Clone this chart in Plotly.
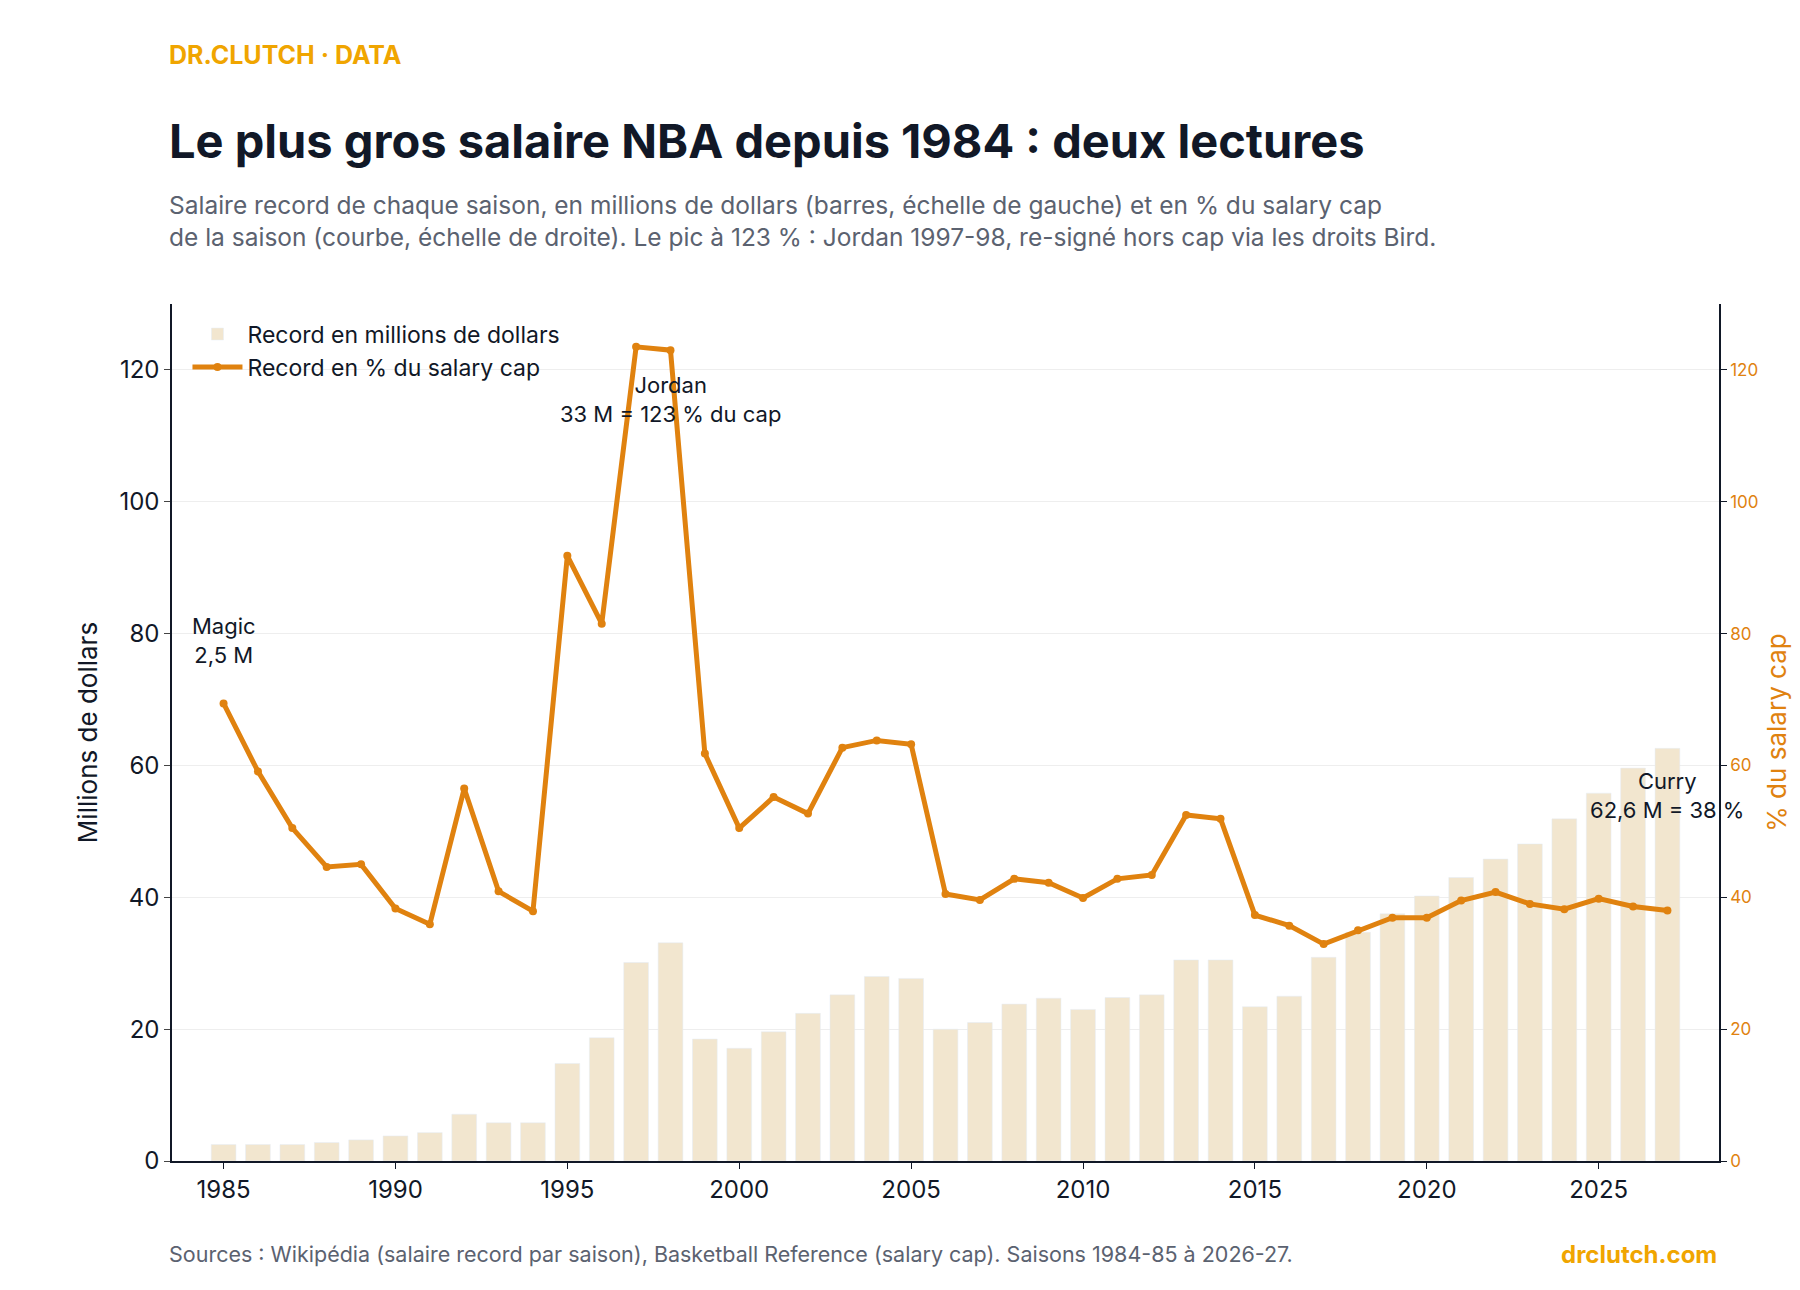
import plotly.graph_objects as go

years = list(range(1985, 2028))
record_musd = [2.5, 2.5, 2.5, 2.8, 3.2, 3.8, 4.3, 7.1, 5.8, 5.8, 14.8, 18.7, 30.1, 33.1, 18.5, 17.1,
               19.6, 22.4, 25.2, 28.0, 27.7, 20.0, 21.0, 23.8, 24.7, 23.0, 24.8, 25.2, 30.5, 30.5,
               23.4, 25.0, 30.9, 34.7, 37.5, 40.2, 43.0, 45.8, 48.1, 51.9, 55.8, 59.6, 62.6]
record_pct = [69.4, 59.1, 50.5, 44.6, 45.0, 38.3, 35.9, 56.5, 40.9, 37.9, 91.8, 81.5, 123.5, 123.0,
              61.8, 50.5, 55.2, 52.7, 62.7, 63.8, 63.2, 40.5, 39.6, 42.8, 42.2, 39.9, 42.8, 43.4,
              52.5, 51.9, 37.3, 35.7, 32.9, 35.0, 36.9, 36.9, 39.5, 40.8, 39.0, 38.2, 39.8, 38.6, 38.0]

ORANGE = "#E0820F"
GOLD = "#F0A500"
DARK = "#111827"
GREY = "#5b6270"
FONT = "Inter"

W, H = 1800, 1290
L, R, T, B = 164, 89, 296, 137
PH = H - T - B

def py(px):
    return (H - B - px) / PH

fig = go.Figure()
fig.add_trace(go.Bar(x=years, y=record_musd, name="Record en millions de dollars",
                     marker_color="#F2E6CF", width=0.72, yaxis="y"))
fig.add_trace(go.Scatter(x=years, y=record_pct, name="Record en % du salary cap", yaxis="y2",
                         mode="lines+markers", line=dict(color=ORANGE, width=5),
                         marker=dict(size=8, color=ORANGE)))

annots = [
    dict(x=1985, y=79, text="Magic<br>2,5 M"),
    dict(x=1998, y=115.5, text="Jordan<br>33 M = 123 % du cap"),
    dict(x=2027, y=55.4, text="Curry<br>62,6 M = 38 %"),
]
for a in annots:
    fig.add_annotation(x=a["x"], y=a["y"], yref="y2", xref="x", text=a["text"], showarrow=False,
                       font=dict(family=FONT, size=22, color=DARK), align="center")

X0 = -0.003
fig.add_annotation(xref="paper", yref="paper", x=X0, y=py(47), xanchor="left", yanchor="middle",
                   text="<b>DR.CLUTCH · DATA</b>", showarrow=False, font=dict(family=FONT, size=25, color=GOLD))
fig.add_annotation(xref="paper", yref="paper", x=X0, y=py(132), xanchor="left", yanchor="middle",
                   text="<b>Le plus gros salaire NBA depuis 1984 : deux lectures</b>", showarrow=False,
                   font=dict(family=FONT, size=47, color=DARK))
fig.add_annotation(xref="paper", yref="paper", x=X0, y=py(213), xanchor="left", yanchor="middle",
                   text="Salaire record de chaque saison, en millions de dollars (barres, échelle de gauche) et en % du salary cap<br>de la saison (courbe, échelle de droite). Le pic à 123 % : Jordan 1997-98, re-signé hors cap via les droits Bird.",
                   showarrow=False, align="left", font=dict(family=FONT, size=24.5, color=GREY))
fig.add_annotation(xref="paper", yref="paper", x=X0, y=py(1246), xanchor="left", yanchor="middle",
                   text="Sources : Wikipédia (salaire record par saison), Basketball Reference (salary cap). Saisons 1984-85 à 2026-27.",
                   showarrow=False, font=dict(family=FONT, size=21.5, color=GREY))
fig.add_annotation(xref="paper", yref="paper", x=1.0, y=py(1246), xanchor="right", yanchor="middle",
                   text="<b>drclutch.com</b>", showarrow=False, font=dict(family=FONT, size=24, color=GOLD))

fig.update_layout(
    width=W, height=H, plot_bgcolor="white", paper_bgcolor="white",
    margin=dict(l=L, r=R, t=T, b=B),
    font=dict(family=FONT, color=DARK),
    xaxis=dict(range=[1983.5, 2028.5], tickvals=[1985, 1990, 1995, 2000, 2005, 2010, 2015, 2020, 2025],
               showline=True, linecolor=DARK, linewidth=1.5, ticks="outside", ticklen=6, tickcolor=DARK,
               tickfont=dict(size=24, color=DARK), showgrid=False, zeroline=False),
    yaxis=dict(range=[0, 130], tickvals=[0, 20, 40, 60, 80, 100, 120], showline=True, linecolor=DARK,
               linewidth=1.5, ticks="outside", ticklen=6, tickfont=dict(size=24, color=DARK),
               gridcolor="#EEEEEE", zeroline=False,
               title=dict(text="Millions de dollars", font=dict(size=26, color=DARK), standoff=14)),
    yaxis2=dict(range=[0, 130], tickvals=[0, 20, 40, 60, 80, 100, 120], overlaying="y", side="right",
                showline=True, linecolor=DARK, linewidth=1.5, ticks="outside", ticklen=6, tickcolor=DARK,
                tickfont=dict(size=17, color=ORANGE), showgrid=False, zeroline=False,
                title=dict(text="% du salary cap", font=dict(size=26, color=ORANGE), standoff=10)),
    legend=dict(x=0.01, y=0.99, xanchor="left", yanchor="top", bgcolor="rgba(0,0,0,0)",
                font=dict(size=23, color=DARK), itemwidth=50),
)
fig.write_html("out.html")
